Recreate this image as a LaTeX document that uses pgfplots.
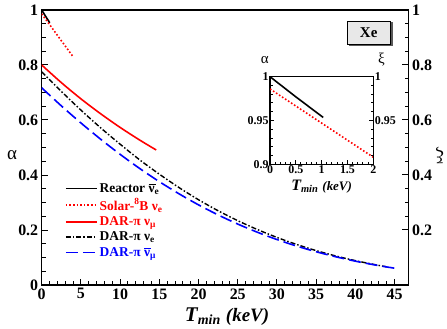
\documentclass[border=0pt]{standalone}
\usepackage{fontspec}
\setmainfont{Liberation Serif}
\usepackage{xcolor}
\usepackage{pgfplots}
\pgfplotsset{compat=1.18}

% nu with a bar over it, for antineutrinos
\newcommand{\nubar}{\leavevmode\rlap{\rule[1.2ex]{0.52em}{0.7pt}}ν}

\begin{document}
\begin{tikzpicture}
\pgfplotsset{
  rootax/.style={
    scale only axis,
    axis line style={line width=1.2bp},
    tick style={line width=1bp, black},
    tick align=inside,
    /pgf/number format/assume math mode=true,
  }
}
% main axis, left scale
\begin{axis}[rootax,
  at={(0,0)}, anchor=south west,
  width=367bp, height=275bp,
  xmin=0, xmax=46.8, ymin=0, ymax=1,
  xtick={0,5,...,45}, ytick={0,0.2,...,1},
  minor x tick num=4, minor y tick num=3,
  xtick pos=bottom, ytick pos=left,
  major tick length=6.5bp, minor tick length=4bp,
  ticklabel style={font=\fontsize{16}{16}\selectfont\bfseries},
  xlabel={\textbf{\textit{\fontsize{21}{21}\selectfont T\textsubscript{\fontsize{14}{14}\selectfont min} \fontsize{19}{19}\selectfont(keV)}}},
  xlabel style={at={(axis description cs:0.505,-0.115)}, anchor=center},
  ylabel={\fontsize{19}{19}\selectfont α},
  ylabel style={at={(axis description cs:-0.081,0.473)}, anchor=center, rotate=-90},
  legend cell align=left,
  legend style={at={(0.055,0.385)}, anchor=north west, draw=none, fill=none,
    font=\fontsize{13.5}{14}\selectfont\bfseries, row sep=1bp},
  legend image code/.code={\draw[#1] (0bp,0bp) -- (31bp,0bp);},
]
\addplot[black, line width=1.6bp] coordinates {(0,1.0) (0.5,0.977) (1.03,0.9535)};
\addlegendentry{Reactor \nubar\textsubscript{e}}
\addplot[red, line width=1.6bp, dash pattern=on 1.6bp off 2bp] coordinates {
(0,0.986) (1,0.947) (2,0.908) (3,0.869) (4.03,0.829)};
\addlegendentry{\textcolor{red}{Solar-\textsuperscript{8}B ν\textsubscript{e}}}
\addplot[red, line width=1.6bp, smooth] coordinates {
(0,0.800) (2.5,0.736) (5,0.677) (7.5,0.623) (10,0.573) (12.5,0.527) (14.6,0.491)};
\addlegendentry{\textcolor{red}{DAR-π ν\textsubscript{μ}}}
\addplot[black, line width=1.4bp, smooth, dash pattern=on 5bp off 2bp on 1.5bp off 2bp] coordinates {
(0,0.775) (2.5,0.704) (5,0.636) (7.5,0.572) (10,0.512) (12.5,0.455) (15,0.403)
(17.5,0.3545) (20,0.310) (22.5,0.270) (25,0.234) (27.5,0.2018) (30,0.173)
(32.5,0.1475) (35,0.1251) (37.5,0.1056) (40,0.0886) (42.5,0.074) (44,0.066)};
\addlegendentry{DAR-π ν\textsubscript{e}}
\addplot[blue, line width=1.6bp, smooth, dash pattern=on 12bp off 5bp] coordinates {
(0,0.717) (2.5,0.6515) (5,0.5893) (7.5,0.5305) (10,0.4752) (12.5,0.4236) (15,0.3758)
(17.5,0.3318) (20,0.2914) (22.5,0.2548) (25,0.2216) (27.5,0.1919) (30,0.1653)
(32.5,0.1417) (35,0.1209) (37.5,0.1027) (40,0.0867) (42.5,0.0729) (45,0.061)};
\addlegendentry{\textcolor{blue}{DAR-π \nubar\textsubscript{μ}}}
\end{axis}
% main axis, right scale
\begin{axis}[rootax,
  at={(0,0)}, anchor=south west,
  width=367bp, height=275bp,
  xmin=0, xmax=46.8, ymin=0, ymax=1,
  axis x line=none, axis y line*=right,
  ytick={0.2,0.4,...,1}, minor y tick num=3,
  major tick length=6.5bp, minor tick length=4bp,
  yticklabel style={font=\fontsize{16}{16}\selectfont\bfseries},
  ylabel={\fontsize{19}{19}\selectfont ξ},
  ylabel style={at={(axis description cs:1.085,0.47)}, anchor=center, rotate=90},
]
\addplot[draw=none] coordinates {(0,0) (1,1)};
\end{axis}
% inset, left scale
\begin{axis}[rootax,
  at={(228.3bp,120.7bp)}, anchor=south west,
  width=103.3bp, height=87.6bp,
  xmin=0, xmax=2, ymin=0.9, ymax=1,
  xtick={0,0.5,...,2}, ytick={0.9,0.95,1},
  minor x tick num=4, minor y tick num=4,
  xtick pos=bottom, ytick pos=both,
  major tick length=4bp, minor tick length=2.5bp,
  ticklabel style={font=\fontsize{12}{12}\selectfont\bfseries},
  xticklabel style={yshift=2bp},
  yticklabel style={xshift=2bp},
  xlabel={\textbf{\textit{\fontsize{16}{16}\selectfont T\textsubscript{\fontsize{10.5}{10.5}\selectfont min} \fontsize{13}{13}\selectfont(keV)}}},
  xlabel style={at={(axis description cs:0.5,-0.25)}, anchor=center},
  ylabel={\fontsize{15}{15}\selectfont α},
  ylabel style={at={(axis description cs:-0.05,1.19)}, anchor=center, rotate=-90},
]
\addplot[black, line width=1.6bp] coordinates {(0,1.0) (0.5,0.977) (1.03,0.9535)};
\addplot[red, line width=1.6bp, dash pattern=on 1.6bp off 2bp] coordinates {
(0,0.986) (0.5,0.9665) (1,0.947) (1.5,0.9275) (2,0.908)};
\end{axis}
% inset, right scale
\begin{axis}[rootax,
  at={(228.3bp,120.7bp)}, anchor=south west,
  width=103.3bp, height=87.6bp,
  xmin=0, xmax=2, ymin=0.9, ymax=1,
  axis x line=none, axis y line*=right,
  ytick={0.95,1}, major tick length=0bp, minor tick length=0bp,
  yticklabel style={font=\fontsize{12}{12}\selectfont\bfseries, xshift=-2bp},
  ylabel={\fontsize{15}{15}\selectfont ξ},
  ylabel style={at={(axis description cs:1.08,1.19)}, anchor=center, rotate=-90},
]
\addplot[draw=none] coordinates {(0,0.9) (2,1)};
\end{axis}
% target label box
\fill[black!65] (307bp,238.5bp) rectangle (351bp,262.5bp);
\node[draw=black, line width=0.6bp, fill=gray!18, minimum width=43bp, minimum height=23.5bp,
  inner sep=0pt, font=\fontsize{15}{15}\selectfont\bfseries] at (327bp,252.3bp) {Xe};
\pgfresetboundingbox
\path (-41.7bp,-44bp) rectangle (405.3bp,285bp);
\end{tikzpicture}
\end{document}
